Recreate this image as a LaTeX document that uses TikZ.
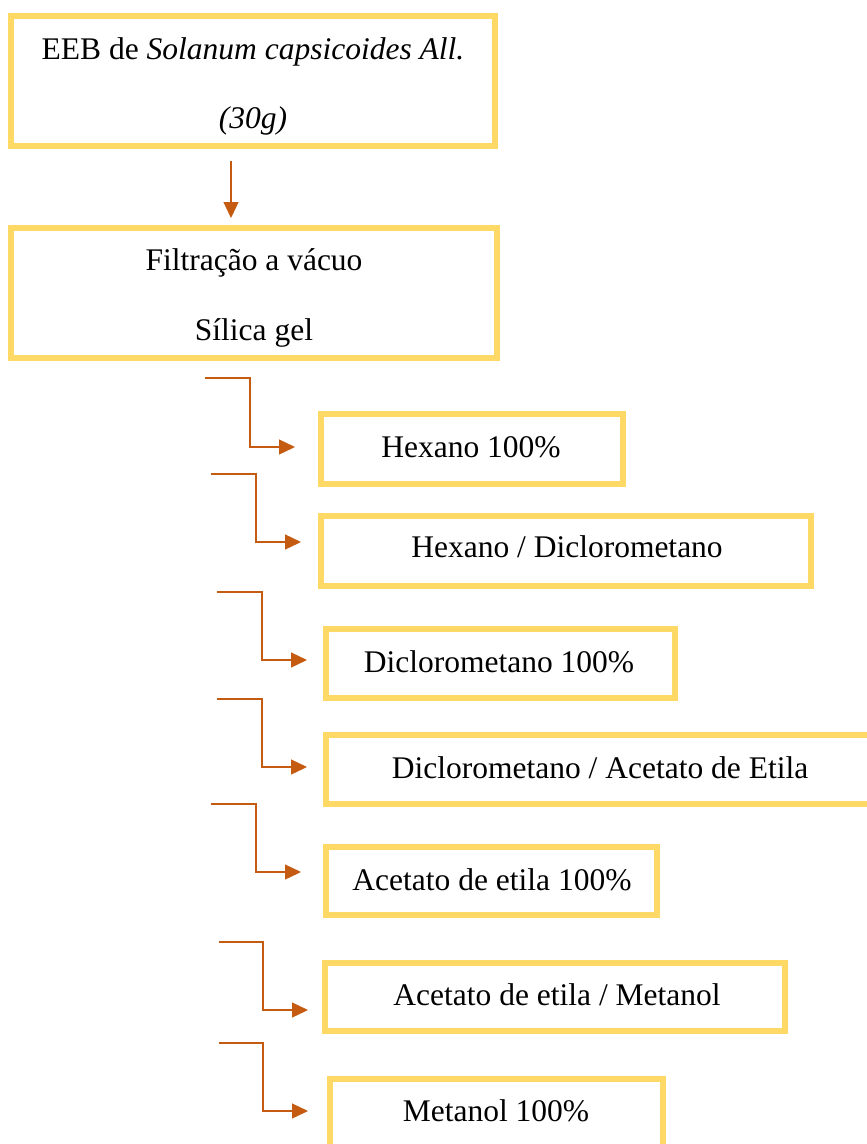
\documentclass[tikz,border=0pt]{standalone}
\usepackage{fontspec}
\setmainfont{Liberation Serif}
\usetikzlibrary{arrows.meta}
\definecolor{boxgold}{HTML}{FFD966}
\definecolor{arrorange}{HTML}{C55A11}
\begin{document}
\begin{tikzpicture}[x=1pt,y=-1pt,
  box/.style={draw=boxgold,line width=6pt,rectangle,inner sep=0pt,outer sep=0pt,fill=white},
  txt/.style={anchor=base,inner sep=0pt,outer sep=0pt,font=\fontsize{31.5}{38}\selectfont},
  conn/.style={draw=arrorange,line width=1.3pt,-{Triangle[length=16pt,width=15pt]}}]
\useasboundingbox[fill=white] (0,0) rectangle (867,1144);
\begin{scope}
\clip (0,0) rectangle (867,1144);
% boxes
\node[box,minimum width=484pt,minimum height=130pt] (b1) at (253,81) {};
\node[box,minimum width=486pt,minimum height=130pt] (b2) at (254,293) {};
\node[box,minimum width=302pt,minimum height=70pt] (b3) at (472,449) {};
\node[box,minimum width=490pt,minimum height=70pt] (b4) at (566,551) {};
\node[box,minimum width=349pt,minimum height=69pt] (b5) at (500.5,663.5) {};
\node[box,minimum width=574pt,minimum height=69pt] (b6) at (613,769.5) {};
\node[box,minimum width=331pt,minimum height=68pt] (b7) at (491.5,881) {};
\node[box,minimum width=460pt,minimum height=68pt] (b8) at (555,997) {};
\node[box,minimum width=333pt,minimum height=80pt] (b9) at (496.5,1119) {};
% texts
\node[txt] (t1a) at (253,59) {EEB de \textit{Solanum capsicoides All.}};
\node[txt] (t1b) at (253,128) {\textit{(30g)}};
\node[txt] (t2a) at (254,270) {Filtração a vácuo};
\node[txt] (t2b) at (254,340) {Sílica gel};
\node[txt] (t3) at (471,457) {Hexano 100\%};
\node[txt] (t4) at (567,557) {Hexano / Diclorometano};
\node[txt] (t5) at (499,672) {Diclorometano 100\%};
\node[txt] (t6) at (600,778) {Diclorometano / Acetato de Etila};
\node[txt] (t7) at (492,890) {Acetato de etila 100\%};
\node[txt] (t8) at (557,1005) {Acetato de etila / Metanol};
\node[txt] (t9) at (496,1121) {Metanol 100\%};
% top arrow
\coordinate (a0) at (231,161);
\coordinate (a1) at (231,218);
\draw[conn] (a0) -- (a1);
% side connectors
\coordinate (s1) at (205,378); \coordinate (k1) at (250,378); \coordinate (e1) at (295,447);
\coordinate (s2) at (211,474); \coordinate (k2) at (256,474); \coordinate (e2) at (301,542);
\coordinate (s3) at (217,592); \coordinate (k3) at (262,592); \coordinate (e3) at (307,660);
\coordinate (s4) at (217,699); \coordinate (k4) at (262,699); \coordinate (e4) at (307,767);
\coordinate (s5) at (211,804); \coordinate (k5) at (256,804); \coordinate (e5) at (301,872);
\coordinate (s6) at (219,942); \coordinate (k6) at (263,942); \coordinate (e6) at (308,1010);
\coordinate (s7) at (219,1043); \coordinate (k7) at (263,1043); \coordinate (e7) at (308,1111);
\foreach \i in {1,...,7}{
  \draw[conn] (s\i) -- (k\i) |- (e\i);
}
\end{scope}
\end{tikzpicture}
\end{document}
